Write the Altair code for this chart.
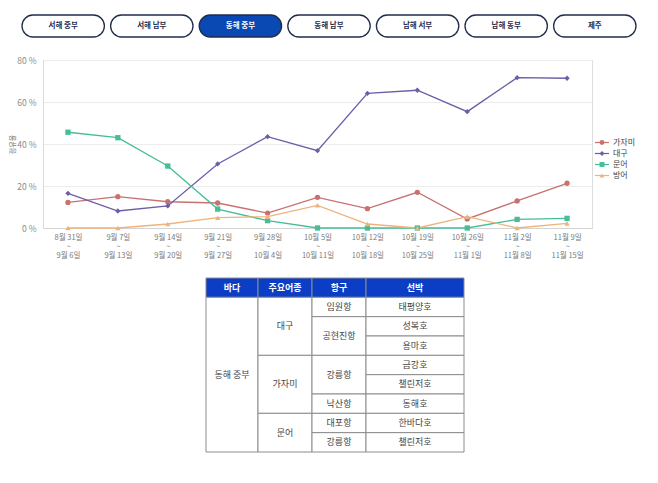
import altair as alt
import pandas as pd

FONT = "Noto Sans CJK KR"

# ---------------- data ----------------
period_start = ["8월 31일", "9월 7일", "9월 14일", "9월 21일", "9월 28일", "10월 5일",
                "10월 12일", "10월 19일", "10월 26일", "11월 2일", "11월 9일"]
period_end = ["9월 6일", "9월 13일", "9월 20일", "9월 27일", "10월 4일", "10월 11일",
              "10월 18일", "10월 25일", "11월 1일", "11월 8일", "11월 15일"]

species = ["가자미", "대구", "문어", "방어"]
share_gajami = [12.2, 14.9, 12.5, 11.9, 7.1, 14.6, 9.2, 17.0, 4.3, 12.9, 21.3]
share_daegu = [16.5, 8.1, 10.5, 30.5, 43.5, 36.8, 64.1, 65.6, 55.4, 71.6, 71.3]
share_muneo = [45.6, 43.0, 29.5, 9.0, 3.5, 0.0, 0.0, 0.0, 0.0, 4.1, 4.6]
share_bangeo = [0.0, 0.0, 1.9, 4.9, 5.4, 10.8, 1.9, 0.0, 5.4, 0.0, 2.2]
y_ticks = [0, 20, 40, 60, 80]

regions = ["서해 중부", "서해 남부", "동해 중부", "동해 남부", "남해 서부", "남해 동부", "제주"]
selected_region = "동해 중부"

table_header = ["바다", "주요어종", "항구", "선박"]
table_sea = ["동해 중부"] * 8
table_species = ["대구", "대구", "대구", "가자미", "가자미", "가자미", "문어", "문어"]
table_port = ["임원항", "공현진항", "공현진항", "강릉항", "강릉항", "낙산항", "대포항", "강릉항"]
table_vessel = ["태평양호", "성복호", "용마호", "금강호", "챌린저호", "동해호", "한바다호", "챌린저호"]

# ---------------- styling ----------------
colors = ["#c8716f", "#6b5da8", "#45bd97", "#efb37c"]
shapes = ["circle", "diamond", "square", "triangle-up"]

# ---------------- line chart ----------------
period_labels = [f"{a}|~|{b}" for a, b in zip(period_start, period_end)]
series = [share_gajami, share_daegu, share_muneo, share_bangeo]
rows = []
for sp, vals in zip(species, series):
    for i, (p, v) in enumerate(zip(period_labels, vals)):
        rows.append({"period": p, "species": sp, "value": v, "order": i})
line_df = pd.DataFrame(rows)

x_enc = alt.X(
    "period:N", sort=period_labels,
    scale=alt.Scale(type="point", padding=0.5),
    axis=alt.Axis(title=None, labelExpr="split(datum.label, '|')", labelAngle=0,
                  labelAlign="center", labelFontSize=7.5, labelColor="#7a7a7a",
                  labelLineHeight=9, labelPadding=5, ticks=False,
                  domainColor="#d4d4d4", labelFont=FONT, grid=False),
)
y_enc = alt.Y(
    "value:Q", scale=alt.Scale(domain=[0, 80], nice=False),
    axis=alt.Axis(values=y_ticks, labelExpr="datum.value + ' %'", title="점유율",
                  titleFontSize=7, titleFontWeight="normal", titleColor="#777777",
                  titleX=-31, titleY=84, titleAngle=-90, titleAlign="center",
                  titleBaseline="middle", labelFontSize=8.5, labelColor="#8a8a8a",
                  labelPadding=7, ticks=False, domainColor="#d9d9d9",
                  gridColor="#ececec", labelFont=FONT, titleFont=FONT),
)
color_enc = alt.Color("species:N", scale=alt.Scale(domain=species, range=colors), legend=None)
shape_enc = alt.Shape("species:N", scale=alt.Scale(domain=species, range=shapes), legend=None)

lines = alt.Chart(line_df).mark_line(strokeWidth=1.3).encode(
    x=x_enc, y=y_enc, color=color_enc, detail="species:N", order="order:Q")
points = alt.Chart(line_df).mark_point(filled=True, size=28, opacity=1).encode(
    x=x_enc, y=y_enc, color=color_enc, shape=shape_enc)
chart_layer = alt.layer(lines, points)

# ---------------- legend ----------------
leg_df = pd.DataFrame({"species": species})
leg_y = alt.Y("species:N", scale=alt.Scale(type="point", domain=species, range=[77, 121]), axis=None)
leg_color = alt.Color("species:N", scale=alt.Scale(domain=species, range=colors), legend=None)
leg_rule = alt.Chart(leg_df).mark_rule(strokeWidth=1.2).encode(
    x=alt.value(552), x2=alt.value(566), y=leg_y, color=leg_color)
leg_pt = alt.Chart(leg_df).mark_point(filled=True, size=24, opacity=1).encode(
    x=alt.value(559), y=leg_y, color=leg_color,
    shape=alt.Shape("species:N", scale=alt.Scale(domain=species, range=shapes), legend=None))
leg_txt = alt.Chart(leg_df).mark_text(align="left", baseline="middle", fontSize=8,
                                      font=FONT, color="#444444").encode(
    x=alt.value(570), y=leg_y, text="species:N")
legend_layer = alt.layer(leg_rule, leg_pt, leg_txt)

# ---------------- region buttons ----------------
btn_df = pd.DataFrame({"region": regions})
btn_x = alt.X("region:N", sort=regions,
              scale=alt.Scale(domain=regions, range=[-21, 593], paddingInner=0.07, paddingOuter=0),
              axis=None)
sel = f"datum.region == '{selected_region}'"
btn_rect = alt.Chart(btn_df).mark_rect(cornerRadius=11, stroke="#1f2c4a", strokeWidth=1.3).encode(
    x=btn_x, y=alt.value(-45), y2=alt.value(-23),
    fill=alt.condition(sel, alt.value("#0a48b3"), alt.value("#ffffff")))
btn_txt = alt.Chart(btn_df).mark_text(fontSize=7.5, fontWeight="bold", font=FONT,
                                      baseline="middle").encode(
    x=btn_x, y=alt.value(-34), text="region:N",
    color=alt.condition(sel, alt.value("#ffffff"), alt.value("#1f2c4a")))
button_layer = alt.layer(btn_rect, btn_txt)

# ---------------- table ----------------
col_widths = [52, 54, 54, 98]
col_edges = [0]
for w in col_widths:
    col_edges.append(col_edges[-1] + w)
columns = [table_sea, table_species, table_port, table_vessel]
n = len(table_vessel)
cells = []
for c, h in enumerate(table_header):
    cells.append({"x0": col_edges[c], "x1": col_edges[c + 1], "y0": 0, "y1": 1,
                  "text": h, "header": 1})
for c, col in enumerate(columns):
    start = 0
    for r in range(1, n + 1):
        end_run = (r == n)
        if not end_run:
            same = all(columns[k][r] == columns[k][start] for k in range(c + 1))
            end_run = not same
        if end_run:
            cells.append({"x0": col_edges[c], "x1": col_edges[c + 1],
                          "y0": start + 1, "y1": r + 1, "text": col[start], "header": 0})
            start = r
cell_df = pd.DataFrame(cells)
cell_df["xc"] = (cell_df["x0"] + cell_df["x1"]) / 2
cell_df["yc"] = (cell_df["y0"] + cell_df["y1"]) / 2

tx = alt.Scale(domain=[0, col_edges[-1]], range=[163, 421], nice=False, zero=False)
ty = alt.Scale(domain=[0, n + 1], range=[218, 392], nice=False, zero=False)
tbl_rect = alt.Chart(cell_df).mark_rect(stroke="#8c8c8c", strokeWidth=1).encode(
    x=alt.X("x0:Q", scale=tx, axis=None), x2="x1:Q",
    y=alt.Y("y0:Q", scale=ty, axis=None), y2="y1:Q",
    fill=alt.condition("datum.header == 1", alt.value("#0b3ec4"), alt.value("#ffffff")))
tbl_head = alt.Chart(cell_df).mark_text(fontSize=9, fontWeight="bold", font=FONT,
                                        color="#ffffff", baseline="middle").encode(
    x=alt.X("xc:Q", scale=tx, axis=None), y=alt.Y("yc:Q", scale=ty, axis=None),
    text="text:N").transform_filter("datum.header == 1")
tbl_body = alt.Chart(cell_df).mark_text(fontSize=9, font=FONT, color="#444444",
                                        baseline="middle").encode(
    x=alt.X("xc:Q", scale=tx, axis=None), y=alt.Y("yc:Q", scale=ty, axis=None),
    text="text:N").transform_filter("datum.header == 0")
table_layer = alt.layer(tbl_rect, tbl_head, tbl_body)

chart = alt.layer(chart_layer, legend_layer, button_layer, table_layer).resolve_scale(
    x="independent", y="independent", color="independent", shape="independent"
).properties(
    width=549, height=168,
    autosize=alt.AutoSizeParams(type="none"),
    padding={"left": 35, "top": 52, "right": 50, "bottom": 240},
    background="#ffffff",
).configure_view(strokeWidth=0).configure(font=FONT)

chart.save("out.html", embed_options={"renderer": "svg", "actions": False})
